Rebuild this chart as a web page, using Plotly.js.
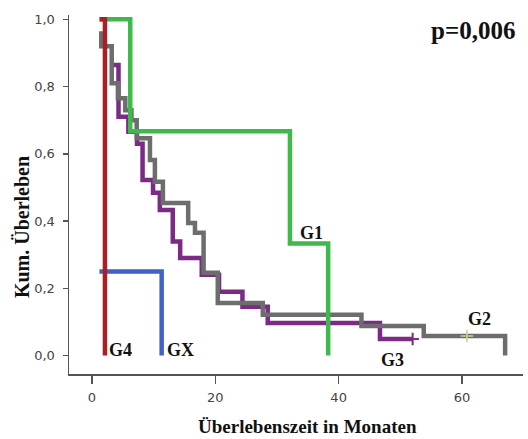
<!DOCTYPE html>
<html>
<head>
<meta charset="utf-8">
<script src="https://cdn.plot.ly/plotly-3.0.1.min.js"></script>
<style>html,body{margin:0;padding:0;background:#fff;}#chart{width:528px;height:439px;}</style>
</head>
<body>
<div id="chart"></div>
<script>
// Kaplan-Meier step data (time in months, cumulative survival after each time)
const g1Time = [1.3, 6.2, 32.1, 38.3];
const g1Surv = [1.0, 0.667, 0.333, 0.0];

const g2Time = [1.5, 1.5, 3.2, 4.2, 5.4, 6.4, 7.25, 9.4, 10.2, 11.5, 15.6, 16.7, 18.1, 20.4, 27.7, 43.7, 53.8, 67.0];
const g2Surv = [0.965, 0.92, 0.81, 0.765, 0.73, 0.70, 0.646, 0.582, 0.517, 0.454, 0.394, 0.365, 0.246, 0.156, 0.121, 0.088, 0.058, 0.0];

const g3Time = [3.2, 4.3, 5.9, 7.3, 8.2, 9.9, 11.0, 13.1, 14.3, 17.8, 20.6, 24.4, 28.5, 46.7, 52.0];
const g3Surv = [0.864, 0.71, 0.666, 0.63, 0.522, 0.484, 0.433, 0.339, 0.29, 0.24, 0.19, 0.145, 0.097, 0.049, 0.049];

const g4Time = [1.2, 2.1];
const g4Surv = [1.0, 0.0];

const gxTime = [1.2, 11.3];
const gxSurv = [0.25, 0.0];

// censored observations
const g2CensTime = [60.8];
const g2CensSurv = [0.058];
const g3CensTime = [52.0];
const g3CensSurv = [0.049];

const xTicks = [0, 20, 40, 60];
const yTicks = [0, 0.2, 0.4, 0.6, 0.8, 1.0];
const pText = 'p=0,006';
const xTitle = 'Überlebenszeit in Monaten';
const yTitle = 'Kum. Überleben';

const LW = 4.5;
const serif = '"Liberation Serif", "Times New Roman", serif';
const sans = '"DejaVu Sans", Tahoma, sans-serif';

function step(t, s, color, name) {
  return {x: t, y: s, mode: 'lines', type: 'scatter', name: name,
    line: {shape: 'hv', color: color, width: LW}, hoverinfo: 'skip'};
}

const traces = [
  step(g3Time, g3Surv, '#7b2a85', 'G3'),
  step(g2Time, g2Surv, '#6d6d6d', 'G2'),
  step(gxTime, gxSurv, '#3f62c4', 'GX'),
  step(g1Time, g1Surv, '#3dba4a', 'G1'),
  step(g4Time, g4Surv, '#a81f24', 'G4'),
  {x: g3CensTime, y: g3CensSurv, mode: 'markers', type: 'scatter', cliponaxis: false,
   marker: {symbol: 'cross-thin', size: 9, line: {color: '#7b2a85', width: 2}}},
  {x: g2CensTime, y: g2CensSurv, mode: 'markers', type: 'scatter', cliponaxis: false,
   marker: {symbol: 'cross-thin', size: 9, line: {color: '#cfcf8a', width: 1.5}}}
];

const labFont = {family: serif, size: 18, color: '#111'};
function lab(text, x, y) {
  return {text: '<b>' + text + '</b>', x: x, y: y, xref: 'x', yref: 'y', showarrow: false,
    font: labFont, xanchor: 'center', yanchor: 'middle'};
}

const layout = {
  width: 528, height: 439,
  margin: {l: 69, r: 5, t: 15, b: 65},
  paper_bgcolor: '#ffffff', plot_bgcolor: '#ffffff',
  showlegend: false,
  separators: ',.',
  xaxis: {
    range: [-3.73, 69.9], tickvals: xTicks, ticks: 'outside', ticklen: 8, tickwidth: 1.5,
    tickcolor: '#555', showline: true, linecolor: '#555', linewidth: 1.5, mirror: false,
    showgrid: false, zeroline: false, ticklabelstandoff: 3,
    tickfont: {family: sans, size: 13, color: '#444'}
  },
  yaxis: {
    range: [-0.055, 1.013], tickvals: yTicks, tickformat: '.1f', ticks: 'outside', ticklen: 5, tickwidth: 1.5,
    tickcolor: '#555', showline: true, linecolor: '#555', linewidth: 1.5, mirror: false,
    showgrid: false, zeroline: false, ticklabelstandoff: 5,
    tickfont: {family: sans, size: 13, color: '#444'}
  },
  annotations: [
    lab('G1', 35.6, 0.363),
    lab('G2', 62.8, 0.110),
    lab('G3', 48.8, -0.013),
    lab('G4', 4.7, 0.016),
    lab('GX', 14.3, 0.016),
    {text: '<b>' + pText + '</b>', x: 61.8, y: 0.966, xref: 'x', yref: 'y', showarrow: false,
     font: {family: serif, size: 25, color: '#111'}, xanchor: 'center', yanchor: 'middle'},
    {text: '<b>' + xTitle + '</b>', x: 34.9, y: -0.1476, xref: 'x', yref: 'paper', showarrow: false,
     font: {family: serif, size: 19, color: '#111'}, xanchor: 'center', yanchor: 'middle'},
    {text: '<b>' + yTitle + '</b>', x: -0.1035, y: 0.382, xref: 'paper', yref: 'y', showarrow: false,
     textangle: -90, font: {family: serif, size: 20, color: '#111'}, xanchor: 'center', yanchor: 'middle'}
  ]
};

Plotly.newPlot('chart', traces, layout, {staticPlot: true, displayModeBar: false});
</script>
</body>
</html>
